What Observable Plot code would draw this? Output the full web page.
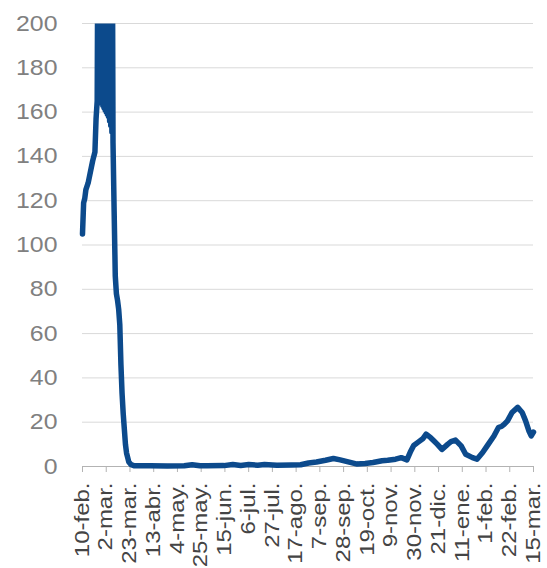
<!DOCTYPE html>
<html><head><meta charset="utf-8">
<script src="https://cdn.jsdelivr.net/npm/d3@7"></script>
<script src="https://cdn.jsdelivr.net/npm/@observablehq/plot@0.6"></script>
<style>html,body{margin:0;padding:0;background:#fff;} svg{display:block}</style>
</head><body><div id="chart"></div>
<script>
const dates = [
"2020-02-10","2020-02-11","2020-02-12","2020-02-13","2020-02-15","2020-02-17","2020-02-19","2020-02-21","2020-02-22",
"2020-02-23T00","2020-02-23T12","2020-02-24T00","2020-02-24T12","2020-02-25T00","2020-02-25T12","2020-02-26T00","2020-02-26T12",
"2020-02-27T00","2020-02-27T12","2020-02-28T00","2020-02-28T12","2020-02-29T00","2020-02-29T12","2020-03-01T00","2020-03-01T12",
"2020-03-02T00","2020-03-02T12","2020-03-03T00","2020-03-03T12","2020-03-04T00","2020-03-04T12","2020-03-05T00","2020-03-05T12",
"2020-03-06T00","2020-03-06T12","2020-03-07T00","2020-03-07T12","2020-03-08T00",
"2020-03-09","2020-03-10","2020-03-11","2020-03-12","2020-03-13","2020-03-14",
"2020-03-15","2020-03-16","2020-03-17","2020-03-18","2020-03-19","2020-03-20","2020-03-21","2020-03-22","2020-03-24","2020-03-27",
"2020-04-10","2020-04-25","2020-05-10","2020-05-17","2020-05-24","2020-05-30","2020-06-14","2020-06-22","2020-06-29","2020-07-06",
"2020-07-14","2020-07-20","2020-07-31","2020-08-13","2020-08-21","2020-08-28","2020-09-04","2020-09-12","2020-09-19","2020-09-25",
"2020-10-03","2020-10-10","2020-10-17","2020-10-24","2020-11-01","2020-11-06","2020-11-13","2020-11-18","2020-11-23","2020-11-26",
"2020-11-29","2020-12-03","2020-12-07","2020-12-10","2020-12-14","2020-12-17","2020-12-20","2020-12-24","2020-12-29","2021-01-01","2021-01-05","2021-01-10","2021-01-14",
"2021-01-20","2021-01-24","2021-01-29","2021-02-02","2021-02-08","2021-02-12","2021-02-15","2021-02-17","2021-02-20","2021-02-24","2021-03-01",
"2021-03-05","2021-03-08","2021-03-11","2021-03-13","2021-03-15"
];
const values = [
105,119,121,125,128,133,138,142,157,
165,230,168,260,166,290,165,280,
164,300,163,310,162,290,161,300,
160,280,159,270,158,260,156,250,
154,240,151,225,146,
115,86,78,75,71,64,
46,33,24,17,10,6,4,2,0.8,0.3,
0.3,0.2,0.3,0.8,0.3,0.3,0.4,0.9,0.5,0.9,
0.6,0.9,0.6,0.7,0.8,1.6,2.0,2.8,3.6,3.0,
2.0,1.1,1.4,1.8,2.6,2.8,3.3,4.0,3.0,6.5,
9.5,11,12.5,14.6,13,11.5,10,7.7,10,11.2,11.9,9.3,5.5,
4,3.3,6.3,9.3,13.8,17.6,18.2,19,20.6,24.4,26.7,
24.4,20.6,16,13.8,15.5
];
const tickDates = ["2020-02-10","2020-03-02","2020-03-23","2020-04-13","2020-05-04","2020-05-25","2020-06-15","2020-07-06","2020-07-27","2020-08-17",
"2020-09-07","2020-09-28","2020-10-19","2020-11-09","2020-11-30","2020-12-21","2021-01-11","2021-02-01","2021-02-22","2021-03-15"];
const tickLabels = ["10-feb.","2-mar.","23-mar.","13-abr.","4-may.","25-may.","15-jun.","6-jul.","27-jul.","17-ago.",
"7-sep.","28-sep.","19-oct.","9-nov.","30-nov.","21-dic.","11-ene.","1-feb.","22-feb.","15-mar."];
const yTicks = [0,20,40,60,80,100,120,140,160,180,200];

const parse = s => new Date(s.length === 10 ? s + "T00:00:00Z" : s + ":00:00Z");
const data = dates.map((d,i)=>({date:parse(d), value:values[i]}));
const tickD = tickDates.map(parse);
const labelOf = new Map(tickD.map((d,i)=>[+d, tickLabels[i]]));

const chart = Plot.plot({
  width:547, height:568, marginLeft:82, marginRight:14, marginTop:23, marginBottom:102,
  style:{fontFamily:"'Liberation Sans', Arial, sans-serif", background:"#fff"},
  x:{type:"utc", domain:[tickD[0], tickD[tickD.length-1]], label:null},
  y:{domain:[0,200], label:null},
  marks:[
    Plot.gridY(yTicks.filter(v=>v>0), {stroke:"#d9d9d9", strokeOpacity:1}),
    Plot.ruleY([0], {stroke:"#b3b3b3"}),
    Plot.axisY(yTicks, {tickSize:0, tickPadding:25, fill:"#808080", fontSize:22, label:null}),
    Plot.axisX(tickD, {tickSize:6, tickPadding:10, tickRotate:-90, tickFormat:d=>labelOf.get(+d), stroke:"#b3b3b3", fill:"#444", fontSize:19.5, label:null}),
    Plot.lineY(data, {x:"date", y:"value", stroke:"#0c4a8c", strokeWidth:5.5, strokeLinejoin:"round", strokeLinecap:"round"})
  ]
});
document.getElementById("chart").appendChild(chart);

const svg = d3.select(chart);
// clip the line at the top of the frame (values above 200 run off the chart)
const defs = svg.insert("defs", ":first-child");
defs.append("clipPath").attr("id","clipTop").append("rect").attr("x",0).attr("y",23).attr("width",547).attr("height",545);
svg.selectAll('g[aria-label="line"]').attr("clip-path","url(#clipTop)");

function stretch(sel, s){
  sel.each(function(){
    const t = this.getAttribute("transform");
    if (t) this.setAttribute("transform", t + ` scale(${s},1)`);
    else {
      const x = +this.getAttribute("x")||0, y = +this.getAttribute("y")||0;
      this.setAttribute("transform", `translate(${x},${y}) scale(${s},1) translate(${-x},${-y})`);
    }
  });
}
stretch(svg.selectAll('g[aria-label="x-axis tick label"] text'), 1.23);
stretch(svg.selectAll('g[aria-label="y-axis tick label"] text'), 1.13);
</script>
</body></html>
